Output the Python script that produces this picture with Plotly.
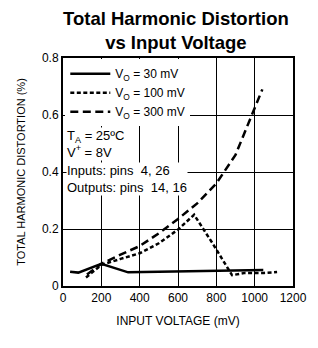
import plotly.graph_objects as go

# Data
x30 = [37, 80, 200, 340, 500, 700, 900, 1045]
y30 = [0.050, 0.047, 0.078, 0.048, 0.050, 0.052, 0.053, 0.056]

x100 = [120, 200, 300, 400, 500, 600, 684, 780, 882, 950, 1050, 1117]
y100 = [0.030, 0.074, 0.095, 0.115, 0.150, 0.198, 0.250, 0.150, 0.038, 0.046, 0.046, 0.049]

x300 = [125, 200, 300, 400, 500, 600, 700, 800, 900, 980, 1040]
y300 = [0.040, 0.078, 0.110, 0.140, 0.185, 0.235, 0.290, 0.360, 0.460, 0.590, 0.690]

xticks = [0, 200, 400, 600, 800, 1000, 1200]
yticks = [0, 0.2, 0.4, 0.6, 0.8]
yticktext = ["0", "0.2", "0.4", "0.6", "0.8"]

notes = ["T<sub>A</sub> = 25ºC<br>V<sup>+</sup> = 8V",
         "Inputs: pins&nbsp; 4, 26<br>Outputs: pins&nbsp; 14, 16"]

FONT = "Liberation Sans, Arial, sans-serif"

# page body has an 8px default margin; figure is sized to fit inside the 318x348 window
W, H = 310, 340
L, R, T, B = 55, 25, 50, 62

fig = go.Figure()
fig.add_trace(go.Scatter(x=x30, y=y30, mode="lines", name="V<sub>O</sub> = 30 mV",
                         line=dict(color="black", width=2.5, dash="solid")))
fig.add_trace(go.Scatter(x=x100, y=y100, mode="lines", name="V<sub>O</sub> = 100 mV",
                         line=dict(color="black", width=2.5, dash="4px,2.5px")))
fig.add_trace(go.Scatter(x=x300, y=y300, mode="lines", name="V<sub>O</sub> = 300 mV",
                         line=dict(color="black", width=2.5, dash="8px,4.5px")))

note_y = [0.625, 0.469]
for txt, yy in zip(notes, note_y):
    fig.add_annotation(
        x=0.015, y=yy, xref="paper", yref="paper", xanchor="left", yanchor="middle",
        align="left", showarrow=False, bgcolor="white", borderpad=0,
        text=txt, font=dict(family=FONT, size=13, color="black"),
    )

fig.add_annotation(
    x=0.49, y=1.0, xref="paper", yref="paper", xanchor="center", yanchor="bottom",
    yshift=3, showarrow=False, align="center",
    text="<b>Total Harmonic Distortion<br>vs Input Voltage</b>",
    font=dict(family=FONT, size=18.5, color="black"),
)

fig.update_layout(
    width=W, height=H,
    margin=dict(l=L, r=R, t=T, b=B),
    paper_bgcolor="white", plot_bgcolor="white",
    font=dict(family=FONT, size=12, color="black"),
    showlegend=True,
    legend=dict(x=0.01, y=0.995, xanchor="left", yanchor="top", bgcolor="white",
                itemwidth=40, font=dict(family=FONT, size=12, color="black"),
                tracegroupgap=0, borderwidth=0),
    xaxis=dict(range=[0, 1200], tickvals=xticks, showgrid=True, gridcolor="black", gridwidth=1,
               showline=True, linecolor="black", linewidth=2, mirror=True, ticks="",
               zeroline=False, tickfont=dict(size=12),
               title=dict(text="INPUT VOLTAGE (mV)", font=dict(family=FONT, size=12), standoff=12)),
    yaxis=dict(range=[0, 0.8], tickvals=yticks, ticktext=yticktext, showgrid=True,
               gridcolor="black", gridwidth=1, showline=True, linecolor="black", linewidth=2,
               mirror=True, ticks="", zeroline=False, tickfont=dict(size=12),
               title=dict(text="TOTAL HARMONIC DISTORTION (%)", font=dict(family=FONT, size=11), standoff=14)),
)

fig.write_html("out.html")
